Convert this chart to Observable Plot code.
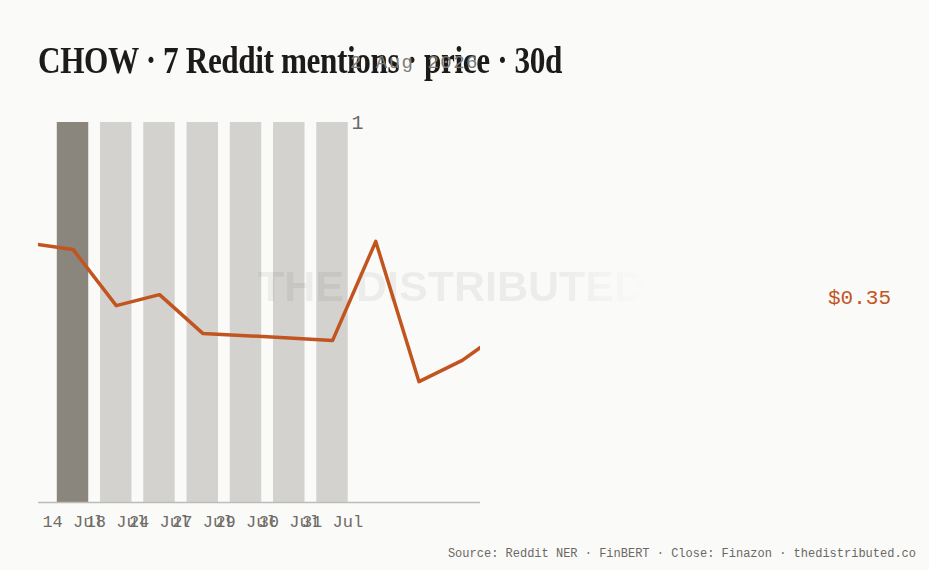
<!DOCTYPE html>
<html>
<head>
<meta charset="utf-8">
<script src="https://cdn.jsdelivr.net/npm/d3@7"></script>
<script src="https://cdn.jsdelivr.net/npm/@observablehq/plot@0.6"></script>
<style>
  html, body { margin: 0; padding: 0; background: #fafaf9; }
  #wrap { position: relative; width: 929px; height: 570px; overflow: hidden; background: #fafaf9; }
  .layer { position: absolute; left: 0; top: 0; }
  #title { position: absolute; left: 38px; top: 38px; font-family: "Liberation Serif", serif; font-weight: bold;
    font-size: 38px; color: #1c1b19; white-space: nowrap; transform-origin: 0 0; letter-spacing: -0.5px; z-index: 5; }
  #stamp { position: absolute; left: 350px; top: 52px; font-family: "Liberation Mono", monospace; font-size: 19px;
    color: #7d7a75; white-space: nowrap; letter-spacing: 1.5px; z-index: 6; }
  #water { position: absolute; left: 258px; top: 262px; font-family: "Liberation Sans", sans-serif; font-size: 43px;
    font-weight: bold; color: rgba(0,0,0,0.055); white-space: nowrap; z-index: 2;
    -webkit-mask-image: linear-gradient(to right, black 78%, transparent 100%);
    mask-image: linear-gradient(to right, black 78%, transparent 100%); }
  #last { position: absolute; right: 38px; top: 287px; font-family: "Liberation Mono", monospace; font-size: 21px;
    color: #c2551f; z-index: 5; }
  #caption { position: absolute; right: 13px; top: 547px; font-family: "Liberation Mono", monospace; font-size: 12px;
    color: #6b6863; white-space: nowrap; z-index: 5; }
</style>
</head>
<body>
<div id="wrap">
  <div id="title">CHOW · 7 Reddit mentions · price · 30d</div>
  <div id="stamp">2 Aug 2026</div>
  <div id="water">THE DISTRIBUTED</div>
  <div id="last">$0.35</div>
  <div id="caption">Source: Reddit NER · FinBERT · Close: Finazon · thedistributed.co</div>
</div>
<script>
// --- data ---
const mentionDates = ["14 Jul", "18 Jul", "24 Jul", "27 Jul", "29 Jul", "30 Jul", "31 Jul"];
const mentionCounts = [1, 1, 1, 1, 1, 1, 1];
const highlightDate = "14 Jul";
const priceSlots = [-1, 0, 1, 2, 3, 4, 5, 6, 7, 8, 9, 10];
const priceValues = [0.3682, 0.3666, 0.3518, 0.3547, 0.3445, 0.3439, 0.3433, 0.3426, 0.3687, 0.3318, 0.3374, 0.3455];
const countTicks = [1];

const bars = mentionDates.map((d, i) => ({slot: i, date: d, count: mentionCounts[i]}));
const prices = priceSlots.map((s, i) => ({slot: s, price: priceValues[i]}));

const W = 929, H = 570;
const common = {
  width: W, height: H,
  marginLeft: 38, marginRight: 449, marginTop: 122, marginBottom: 68,
  x: {type: "linear", domain: [-0.798, 9.422], axis: null},
};

const barPlot = Plot.plot({
  ...common,
  style: {background: "transparent", overflow: "visible"},
  y: {domain: [0, 1], axis: null},
  marks: [
    Plot.rectY(bars.filter(d => d.date !== highlightDate), {
      x1: d => d.slot - 0.5, x2: d => d.slot + 0.5, y1: 0, y2: "count",
      insetLeft: 5.9, insetRight: 5.9, fill: "#d3d2ce"
    }),
    Plot.rectY(bars.filter(d => d.date === highlightDate), {
      x1: d => d.slot - 0.5, x2: d => d.slot + 0.5, y1: 0, y2: "count",
      insetLeft: 5.9, insetRight: 5.9, fill: "#8a857d"
    }),
    Plot.ruleY([0], {stroke: "#bdbcb8", strokeWidth: 1.5}),
    Plot.axisX({
      ticks: bars.map(d => d.slot),
      tickFormat: i => mentionDates[i],
      tickSize: 0, tickPadding: 12,
      fontSize: 17, fontFamily: "Liberation Mono, monospace", fill: "#6f6c67", label: null
    }),
    Plot.text(countTicks, {
      x: mentionDates.length - 1, y: d => d, text: d => String(d),
      dx: 25, fontSize: 20, fontFamily: "Liberation Mono, monospace", fill: "#6b6863",
      lineAnchor: "middle"
    })
  ]
});

const linePlot = Plot.plot({
  ...common,
  style: {background: "transparent", overflow: "visible"},
  y: {domain: [0.30, 0.40], axis: null},
  marks: [
    Plot.line(prices, {x: "slot", y: "price", stroke: "#c2551f", strokeWidth: 3.5, clip: true})
  ]
});

barPlot.classList.add("layer"); barPlot.style.zIndex = 1;
linePlot.classList.add("layer"); linePlot.style.zIndex = 3;
const wrap = document.getElementById("wrap");
wrap.appendChild(barPlot);
wrap.appendChild(linePlot);

// fit the title to the reference width
const title = document.getElementById("title");
const tw = title.getBoundingClientRect().width;
title.style.transform = `scaleX(${524 / tw})`;
</script>
</body>
</html>
